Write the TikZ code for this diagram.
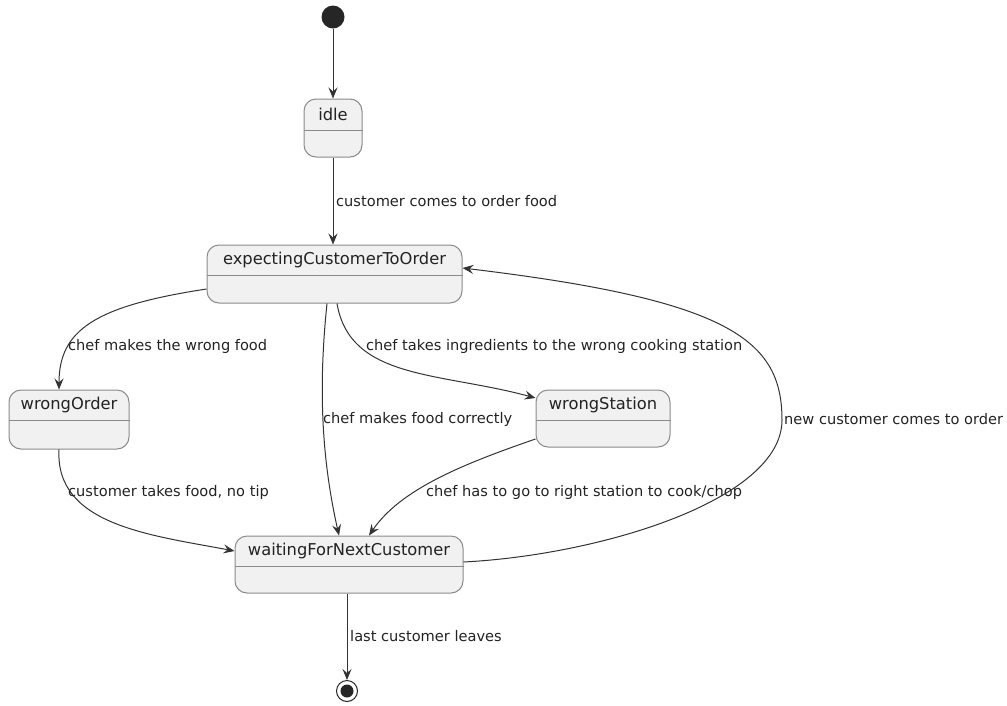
\documentclass[tikz,border=0pt]{standalone}
\usepackage{fontspec}
\setmainfont{DejaVu Sans}
\usetikzlibrary{arrows.meta}
\definecolor{stfill}{HTML}{F1F1F1}
\definecolor{stdraw}{HTML}{8A8A8A}
\definecolor{edge}{HTML}{333333}
\definecolor{txt}{HTML}{222222}
\tikzset{
  stshape/.style={draw=stdraw, fill=stfill, line width=1pt, rounded corners=12pt, inner sep=0pt},
  stline/.style={draw=stdraw, line width=1pt},
  sttitle/.style={font=\fontsize{16.3}{18}\selectfont, text=txt, inner sep=0pt},
  lbl/.style={font=\fontsize{14.6}{16}\selectfont, text=txt, anchor=west, inner sep=0pt},
  arr/.style={draw=edge, line width=1pt, -{Stealth[length=11pt, width=9pt, inset=4pt]}},
}
\newcommand\mystate[7]{%
  \node[stshape, minimum width={(#4-#2)*1pt}, minimum height={(#5-#3)*1pt}] (#1) at ({(#2+#4)/2},{(#3+#5)/2}) {};
  \draw[stline] (#1.west |- 0,#6) -- (#1.east |- 0,#6);
  \node[sttitle] at ({(#2+#4)/2},{(#3+#6)/2}) {#7};
}
\begin{document}
\begin{tikzpicture}[x=1pt,y=-1pt]
\useasboundingbox (0,0) rectangle (1007,705);
% start / end
\node[circle, fill=black!85, minimum size=23pt, inner sep=0pt] (start) at (333,17) {};
\node[circle, draw=black!85, line width=1pt, minimum size=21pt, inner sep=0pt] (stop) at (347,691) {};
\node[circle, fill=black!85, minimum size=13pt, inner sep=0pt] (stopdot) at (347,691) {};
% states
\mystate{idle}{304}{99}{362}{157}{130}{idle}
\mystate{exp}{207}{245}{462}{303}{275}{expectingCustomerToOrder}
\mystate{wo}{9}{390}{129}{449}{420}{wrongOrder}
\mystate{ws}{536}{390}{670}{447}{420}{wrongStation}
\mystate{wait}{235}{536}{463}{593}{566}{waitingForNextCustomer}
% edges
\draw[arr] (start) -- (idle.north -| start);
\draw[arr] (idle.south -| 333,0) -- (exp.north -| 333,0);
\node[lbl] (l1) at (336,201) {customer comes to order food};

\draw[arr] (exp.west |- 0,289) .. controls (95,306) and (59,330) .. (wo.north -| 59,0);
\node[lbl] (l2) at (68,346) {chef makes the wrong food};

\draw[arr] (exp.south -| 327,0) .. controls (318,390) and (322,460) .. (wait.north -| 339,0);
\node[lbl] (l3) at (323,419) {chef makes food correctly};

\draw[arr] (exp.south -| 337,0) .. controls (350,380) and (440,372) .. (ws.west |- 0,398);
\node[lbl] (l4) at (366,346) {chef takes ingredients to the wrong cooking station};

\draw[arr] (ws.west |- 0,439) .. controls (460,465) and (400,490) .. (wait.north -| 369,0);
\node[lbl] (l5) at (426,492) {chef has to go to right station to cook/chop};

\draw[arr] (wo.south -| 59,0) .. controls (55,525) and (150,535) .. (wait.west |- 0,551);
\node[lbl] (l6) at (68,492) {customer takes food, no tip};

\draw[arr] (wait.east |- 0,562) .. controls (600,555) and (782,500) .. (782,420) .. controls (782,340) and (730,300) .. (exp.east |- 0,268);
\node[lbl] (l7) at (784,419) {new customer comes to order};

\draw[arr] (wait.south -| stop) -- (stop.north);
\node[lbl] (l8) at (350,636) {last customer leaves};
\end{tikzpicture}
\end{document}
